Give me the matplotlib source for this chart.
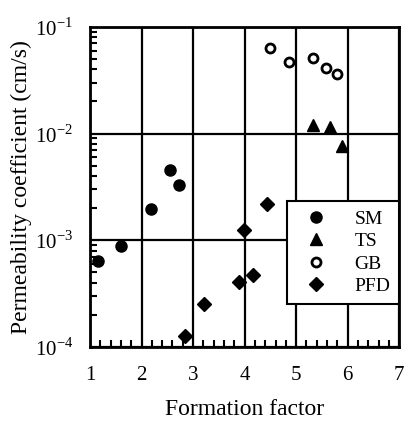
import numpy as np
import matplotlib.pyplot as plt
from matplotlib.ticker import LogLocator, MultipleLocator, FixedLocator

plt.rcParams['font.family'] = 'Liberation Serif'
plt.rcParams['mathtext.fontset'] = 'custom'
plt.rcParams['mathtext.rm'] = 'Liberation Serif'

sm_x = [1.15, 1.6, 2.18, 2.55, 2.73]
sm_y = [6.4e-4, 8.8e-4, 1.95e-3, 4.6e-3, 3.3e-3]
ts_x = [5.33, 5.66, 5.89]
ts_y = [1.21e-2, 1.16e-2, 7.6e-3]
gb_x = [4.5, 4.87, 5.33, 5.58, 5.8]
gb_y = [6.3e-2, 4.7e-2, 5.1e-2, 4.1e-2, 3.6e-2]
pfd_x = [2.84, 3.21, 3.89, 3.99, 4.16, 4.44]
pfd_y = [1.27e-4, 2.5e-4, 4.1e-4, 1.24e-3, 4.7e-4, 2.2e-3]

fig = plt.figure(figsize=(4.09, 4.21), dpi=100)
ax = fig.add_axes([0.22, 0.176, 0.756, 0.760])

ax.plot(sm_x, sm_y, "o", color="black", markersize=8, label="SM", zorder=3)
ax.plot(ts_x, ts_y, "^", color="black", markersize=8, label="TS", zorder=3)
ax.plot(gb_x, gb_y, "o", markerfacecolor="white", markeredgecolor="black",
        markeredgewidth=2, markersize=6.5, label="GB", zorder=3)
ax.plot(pfd_x, pfd_y, "D", color="black", markersize=7.5, label="PFD", zorder=3)

ax.set_yscale("log")
ax.set_xlim(1, 7)
ax.set_ylim(1e-4, 1e-1)
ax.xaxis.set_major_locator(MultipleLocator(1))
ax.xaxis.set_minor_locator(MultipleLocator(0.2))
ax.yaxis.set_major_locator(FixedLocator([1e-4, 1e-3, 1e-2, 1e-1]))
ax.yaxis.set_minor_locator(LogLocator(base=10, subs=np.arange(2, 10)))
ax.set_yticklabels([r"$10^{-4}$", r"$10^{-3}$", r"$10^{-2}$", r"$10^{-1}$"])
ax.tick_params(axis='y', which='major', length=0, labelsize=15, pad=12)
ax.tick_params(axis='x', which='major', length=0, labelsize=15, pad=14)
ax.tick_params(axis='both', which='minor', direction='in', length=5, width=1.5,
               labelleft=False, labelbottom=False)
ax.grid(True, which='major', color='black', linewidth=1.6)
for s in ax.spines.values():
    s.set_linewidth(2)

ax.set_xlabel("Formation factor", fontsize=17, labelpad=10)
ax.set_ylabel("Permeability coefficient (cm/s)", fontsize=17, labelpad=2)

leg = ax.legend(loc="upper right", bbox_to_anchor=(1.0, 0.455), fancybox=False,
                framealpha=1, edgecolor="black", fontsize=14, handletextpad=1.0,
                borderpad=0.45, labelspacing=0.25, borderaxespad=0)
leg.get_frame().set_linewidth(1.5)
leg.set_zorder(5)

plt.savefig("out.png", dpi=100)
